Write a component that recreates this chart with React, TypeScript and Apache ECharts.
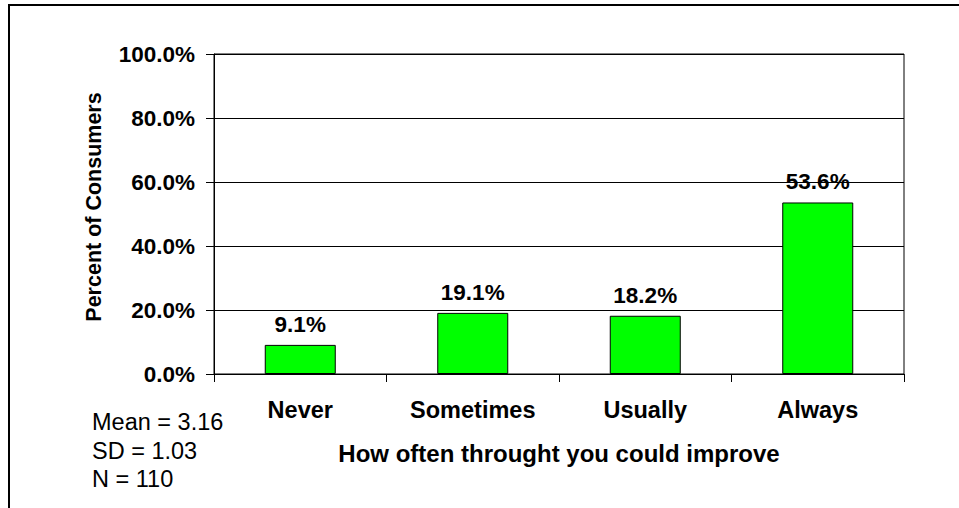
import React, { useEffect, useRef } from "react";
import * as echarts from "echarts";

const categories = ["Never", "Sometimes", "Usually", "Always"];
const percents = [9.1, 19.1, 18.2, 53.6];
const yTicks = { min: 0, max: 100, interval: 20 };
const statsLines = ["Mean = 3.16", "SD = 1.03", "N = 110"];
const xTitle = "How often throught you could improve";
const yTitle = "Percent of Consumers";

const FONT = "'Liberation Sans', Arial, Helvetica, sans-serif";

export default function App() {
  const ref = useRef<HTMLDivElement>(null);

  useEffect(() => {
    if (!ref.current) return;
    const chart = echarts.init(ref.current, undefined, { renderer: "svg" });

    const statsGraphics = statsLines.map((t, i) => ({
      type: "text",
      left: 92,
      top: 410 + i * 28.5,
      style: {
        text: t,
        font: `23.5px ${FONT}`,
        fill: "#000",
      },
    }));

    chart.setOption({
      animation: false,
      backgroundColor: "#fff",
      grid: {
        left: 214,
        top: 54,
        right: 55,
        bottom: 134,
        show: true,
        borderColor: "#000",
        borderWidth: 1,
      },
      xAxis: {
        type: "category",
        data: categories,
        boundaryGap: true,
        axisLine: { show: true, lineStyle: { color: "#000", width: 1 } },
        axisTick: { show: true, length: 8, inside: false, alignWithLabel: false, lineStyle: { color: "#000" } },
        axisLabel: {
          color: "#000",
          fontFamily: FONT,
          fontWeight: "bold",
          fontSize: 23.5,
          margin: 24,
        },
        name: xTitle,
        nameLocation: "middle",
        nameGap: 67,
        nameTextStyle: {
          color: "#000",
          fontFamily: FONT,
          fontWeight: "bold",
          fontSize: 24,
          verticalAlign: "top",
        },
      },
      yAxis: {
        type: "value",
        min: yTicks.min,
        max: yTicks.max,
        interval: yTicks.interval,
        axisLine: { show: true, lineStyle: { color: "#000", width: 1 } },
        axisTick: { show: true, length: 8, inside: false, lineStyle: { color: "#000" } },
        splitLine: { show: true, lineStyle: { color: "#000", width: 1 } },
        axisLabel: {
          color: "#000",
          fontFamily: FONT,
          fontWeight: "bold",
          fontSize: 22.5,
          margin: 19,
          formatter: (v: number) => `${v.toFixed(1)}%`,
        },
      },
      series: [
        {
          type: "bar",
          data: percents,
          barWidth: 71,
          itemStyle: { color: "#00ff00", borderColor: "#000", borderWidth: 1 },
          label: {
            show: true,
            position: "top",
            distance: 9,
            color: "#000",
            fontFamily: FONT,
            fontWeight: "bold",
            fontSize: 22.5,
            formatter: (p: any) => `${Number(p.value).toFixed(1)}%`,
          },
        },
      ],
      graphic: [
        {
          type: "polyline",
          shape: { points: [[9, 508], [9, 5], [959, 5]] },
          style: { stroke: "#000", lineWidth: 2, fill: "none" },
          silent: true,
        },
        {
          type: "text",
          x: 94,
          y: 207,
          rotation: Math.PI / 2,
          style: {
            text: yTitle,
            font: `bold 21.5px ${FONT}`,
            fill: "#000",
            align: "center",
            verticalAlign: "middle",
          },
        },
        ...statsGraphics,
      ],
    });

    return () => chart.dispose();
  }, []);

  return (
    <div
      ref={ref}
      style={{ position: "fixed", left: 0, top: 0, width: 959, height: 508 }}
    />
  );
}
